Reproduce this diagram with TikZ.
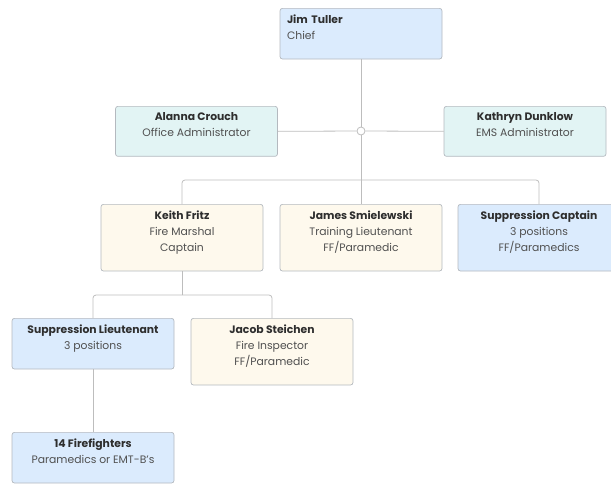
\documentclass[tikz,border=0pt]{standalone}
\usepackage{fontspec}
\setmainfont{Poppins}
\definecolor{blueFill}{HTML}{DBEBFD}
\definecolor{tealFill}{HTML}{E2F4F4}
\definecolor{creamFill}{HTML}{FEF9ED}
\definecolor{boxLine}{HTML}{B4B9BF}
\definecolor{linkGray}{HTML}{BDBDBD}
\definecolor{titleText}{HTML}{2E2E2E}
\definecolor{subText}{HTML}{505050}
\newcommand{\who}[1]{{\color{titleText}\bfseries #1}}
\newcommand{\tail}{\rule[-13pt]{0pt}{13pt}}
\begin{document}
\begin{tikzpicture}[
                x=1pt, y=-1pt,
                box/.style={draw=boxLine, line width=0.7pt, rounded corners=2.5pt,
                    minimum width=162pt, anchor=north, align=center,
                    inner xsep=4pt, inner ysep=6.5pt, text=subText,
                    font=\fontsize{10.8}{16}\selectfont},
                bluebox/.style={box, fill=blueFill},
                tealbox/.style={box, fill=tealFill},
                creambox/.style={box, fill=creamFill},
                link/.style={draw=linkGray, line width=0.8pt, rounded corners=3pt}
            ]
                \clip (0,0) rectangle (611,483);
                
                % Chief
                \node[bluebox, align=left, text width=148pt, inner xsep=7pt] (chief) at (361,8)
                    {\who{Jim Tuller}\\Chief\tail};
                
                % Administrators
                \node[circle, draw=linkGray, line width=0.8pt, fill=white, inner sep=0pt, minimum size=8pt] (hub) at (361,131) {};
                \node[tealbox] (office) at (196.5,106) {\who{Alanna Crouch}\\Office Administrator\tail};
                \node[tealbox] (ems) at (525,106) {\who{Kathryn Dunklow}\\EMS Administrator\tail};
                
                % Captain level
                \node[creambox] (marshal) at (182,204) {\who{Keith Fritz}\\Fire Marshal\\Captain\tail};
                \node[creambox] (training) at (361,204) {\who{James Smielewski}\\Training Lieutenant\\FF/Paramedic\tail};
                \node[bluebox] (suppcapt) at (539,204) {\who{Suppression Captain}\\3 positions\\FF/Paramedics\tail};
                
                % Under the fire marshal
                \node[bluebox] (supplt) at (93,318) {\who{Suppression Lieutenant}\\3 positions\tail};
                \node[creambox] (inspector) at (272,318) {\who{Jacob Steichen}\\Fire Inspector\\FF/Paramedic\tail};
                
                % Firefighters
                \node[bluebox] (crew) at (93,432) {\who{14 Firefighters}\\Paramedics or EMT-B's\tail};
                
                % Bus points
                \coordinate (busA) at (361,180);
                \coordinate (busB) at (182,295);
                
                % Connections
                \draw[link] (chief.south) -- (hub.north);
                \draw[link] (hub.west) -- (office.east);
                \draw[link] (hub.east) -- (ems.west);
                \draw[link] (hub.south) -- (training.north);
                \foreach \n in {marshal,suppcapt}
                    \draw[link] (busA) -| (\n.north);
                \draw[link] (marshal.south) -- (busB);
                \foreach \n in {supplt,inspector}
                    \draw[link] (busB) -| (\n.north);
                \draw[link] (supplt.south) -- (crew.north);
            \end{tikzpicture}
\end{document}
